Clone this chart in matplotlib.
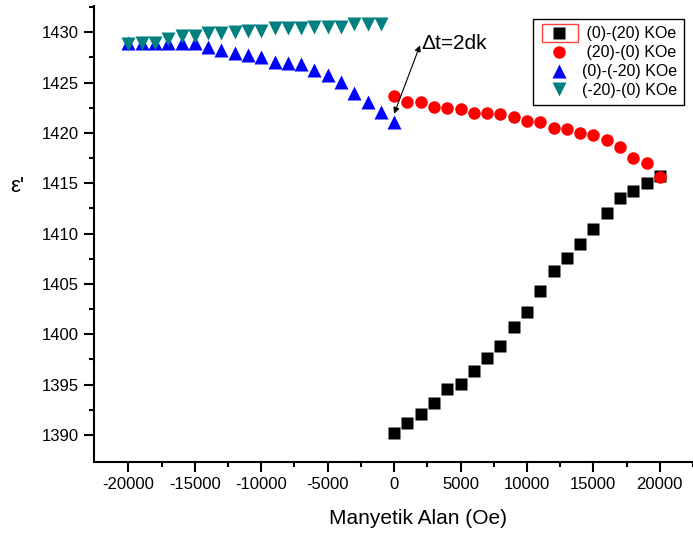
import matplotlib
matplotlib.use("Agg")
import matplotlib.pyplot as plt
from matplotlib.patches import Rectangle

plt.rcParams['font.family'] = ['Liberation Sans', 'DejaVu Sans']
plt.rcParams['axes.unicode_minus'] = False

# (0)-(20) KOe sweep
field_up = [0, 1000, 2000, 3000, 4000, 5000, 6000, 7000, 8000, 9000, 10000,
            11000, 12000, 13000, 14000, 15000, 16000, 17000, 18000, 19000, 20000]
eps_up = [1390.18, 1391.17, 1392.10, 1393.16, 1394.55, 1395.10, 1396.40,
          1397.63, 1398.82, 1400.76, 1402.25, 1404.34, 1406.30, 1407.56,
          1408.95, 1410.44, 1412.06, 1413.55, 1414.24, 1415.06, 1415.73]

# (20)-(0) KOe sweep
field_down = [0, 1000, 2000, 3000, 4000, 5000, 6000, 7000, 8000, 9000, 10000,
              11000, 12000, 13000, 14000, 15000, 16000, 17000, 18000, 19000, 20000]
eps_down = [1423.70, 1423.11, 1423.11, 1422.61, 1422.45, 1422.35, 1422.02,
            1421.96, 1421.86, 1421.56, 1421.22, 1421.06, 1420.47, 1420.37,
            1420.03, 1419.80, 1419.27, 1418.58, 1417.54, 1416.98, 1415.66]

# (0)-(-20) KOe sweep
field_neg = [-20000, -19000, -18000, -17000, -16000, -15000, -14000, -13000,
             -12000, -11000, -10000, -9000, -8000, -7000, -6000, -5000, -4000,
             -3000, -2000, -1000, 0]
eps_neg = [1428.97, 1428.97, 1428.97, 1428.91, 1428.91, 1428.91, 1428.51,
           1428.24, 1427.97, 1427.72, 1427.58, 1427.08, 1426.98, 1426.82,
           1426.26, 1425.76, 1425.03, 1423.94, 1423.11, 1422.12, 1421.12]

# (-20)-(0) KOe sweep
field_ret = [-20000, -19000, -18000, -17000, -16000, -15000, -14000, -13000,
             -12000, -11000, -10000, -9000, -8000, -7000, -6000, -5000, -4000,
             -3000, -2000, -1000]
eps_ret = [1428.84, 1428.91, 1428.97, 1429.30, 1429.63, 1429.63, 1429.90,
           1429.96, 1430.06, 1430.16, 1430.16, 1430.40, 1430.40, 1430.40,
           1430.50, 1430.50, 1430.50, 1430.77, 1430.77, 1430.77]

# leading spaces keep the legend labels right-aligned
labels = [" (0)-(20) KOe", " (20)-(0) KOe", "(0)-(-20) KOe", "(-20)-(0) KOe"]
x_ticks = [-20000, -15000, -10000, -5000, 0, 5000, 10000, 15000, 20000]
y_ticks = [1390, 1395, 1400, 1405, 1410, 1415, 1420, 1425, 1430]

W, H = 693, 533
fig = plt.figure(figsize=(W / 100, H / 100), dpi=100)
ax = fig.add_axes([94.3 / W, 71.3 / H, (W - 94.3) / W, (461.7 - 6) / H])

ax.plot(field_up, eps_up, 's', color='black', ms=8, mec='none', label=labels[0])
ax.plot(field_down, eps_down, 'o', color='#ff0000', ms=9, mec='none', label=labels[1])
ax.plot(field_neg, eps_neg, '^', color='#0000ff', ms=10, mec='none', label=labels[2])
ax.plot(field_ret, eps_ret, 'v', color='#008080', ms=10, mec='none', label=labels[3])

ax.set_xlim(-22570, 22143)
ax.set_ylim(1387.35, 1432.6)
ax.set_xticks(x_ticks)
ax.set_xticklabels([str(v) for v in x_ticks])
ax.set_yticks(y_ticks)
ax.set_xticks([v + 2500 for v in x_ticks], minor=True)
ax.set_yticks([v + 2.5 for v in y_ticks], minor=True)

for side in ('top', 'right'):
    ax.spines[side].set_visible(False)
for side in ('left', 'bottom'):
    ax.spines[side].set_linewidth(1.5)

ax.tick_params(which='major', direction='out', length=7, width=1.5,
               labelsize=12, pad=4, colors='black')
ax.tick_params(which='minor', direction='out', length=3.5, width=1.5)

# double-headed arrow marking the gap between sweeps
ax.annotate('', xy=(0, 1421.9), xytext=(1950, 1428.7),
            arrowprops=dict(arrowstyle='<|-|>', color='black', lw=0.8,
                            mutation_scale=9, shrinkA=0, shrinkB=0))
ax.text(2054, 1428.9, "Δt=2dk", fontsize=15, ha='left', va='center')

leg = ax.legend(loc='upper left', bbox_to_anchor=(532.7 / W, 1 - 19.3 / H),
                bbox_transform=fig.transFigure, borderaxespad=0,
                fontsize=11.5, frameon=True, fancybox=False, framealpha=1,
                edgecolor='black', handlelength=2.43, handletextpad=0.19,
                labelspacing=0.24, borderpad=0.45, numpoints=1)
leg.get_frame().set_linewidth(1.0)

# selection box around the first legend symbol
fig.patches.append(Rectangle((541.7 / W, 1 - 42.3 / H), 36 / W, 18.3 / H,
                             transform=fig.transFigure, fill=False,
                             edgecolor='#ff4040', lw=1.0))

fig.text(17 / W, 1 - 187 / H, "ε'", fontsize=16, ha='center', va='center')
fig.text(418 / W, 1 - 518 / H, "Manyetik Alan (Oe)", fontsize=15,
         ha='center', va='center')

fig.savefig("out.png", dpi=100)
